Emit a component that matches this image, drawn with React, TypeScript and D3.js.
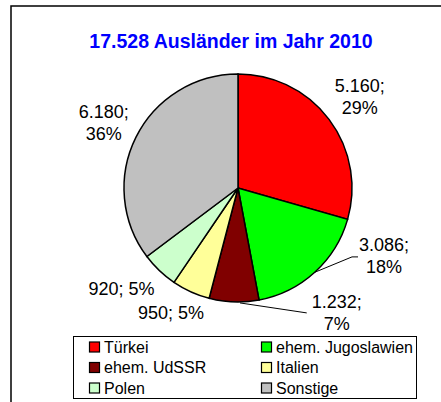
import React, { useRef, useEffect } from "react";
import * as d3 from "d3";

// data
const countries = ["Türkei", "ehem. Jugoslawien", "ehem. UdSSR", "Italien", "Polen", "Sonstige"];
const counts = [5160, 3086, 1232, 950, 920, 6180];
const percents = [29, 18, 7, 5, 5, 36];
const colors = ["#ff0000", "#00ff00", "#800000", "#ffff99", "#ccffcc", "#c0c0c0"];
const title = "17.528 Ausländer im Jahr 2010";

// label nudges (layout), leader flags
const nudges: [number, number][] = [[2, -1], [45, -43], [104, -25], [-5, -12], [-13, -8], [0, 2]];
const leaders = [false, true, true, false, false, false];

const W = 441;
const H = 402;
const cx = 238;
const cy = 188;
const R = 114;

const fmt = (v: number) => d3.format(",")(v).replace(/,/g, ".");

const App = () => {
  const svgRef = useRef<SVGSVGElement>(null);

  useEffect(() => {
    const svg = d3.select(svgRef.current);
    svg.selectAll("*").remove();
    const font = "Arial, 'Liberation Sans', sans-serif";

    // frame
    svg.append("rect")
      .attr("x", 11).attr("y", 6).attr("width", 440).attr("height", 420)
      .attr("fill", "#fff").attr("stroke", "#000").attr("stroke-width", 1.5);

    svg.append("text")
      .attr("x", 231).attr("y", 41).attr("dy", "0.35em")
      .attr("text-anchor", "middle")
      .attr("font-family", font).attr("font-weight", "bold")
      .attr("font-size", 19.5).attr("fill", "#0000ff")
      .text(title);

    const pie = d3.pie<number>().sort(null).value((d) => d);
    const arcs = pie(counts);
    const arc = d3.arc<d3.PieArcDatum<number>>().innerRadius(0).outerRadius(R);
    const labelArc = d3.arc<d3.PieArcDatum<number>>().innerRadius(150).outerRadius(150);
    const edgeArc = d3.arc<d3.PieArcDatum<number>>().innerRadius(R).outerRadius(R);

    const g = svg.append("g").attr("transform", `translate(${cx},${cy})`);
    g.selectAll("path.slice")
      .data(arcs)
      .join("path")
      .attr("class", "slice")
      .attr("d", arc)
      .attr("fill", (d, i) => colors[i])
      .attr("stroke", "#000")
      .attr("stroke-width", 1.5);

    arcs.forEach((d, i) => {
      const [lx0, ly0] = labelArc.centroid(d);
      const lx = lx0 + nudges[i][0];
      const ly = ly0 + nudges[i][1];
      const pct = percents[i] + "%";
      const twoLine = counts[i] >= 1000;
      if (leaders[i]) {
        const [ex, ey] = edgeArc.centroid(d);
        const tx = lx - (i === 1 ? 32 : 30);
        const ty = ly + (i === 1 ? 1 : 0);
        const pts: [number, number][] = i === 1
          ? [[ex, ey], [tx, ty], [tx + 6, ty]]
          : [[ex + 6, ey + 1], [tx, ty]];
        g.append("path")
          .attr("d", d3.line()(pts))
          .attr("fill", "none").attr("stroke", "#000").attr("stroke-width", 1);
      }
      const t = g.append("text")
        .attr("text-anchor", "middle")
        .attr("font-family", font).attr("font-size", 18).attr("fill", "#000");
      if (twoLine) {
        t.append("tspan").attr("x", lx).attr("y", ly - 11).attr("dy", "0.35em").text(fmt(counts[i]) + ";");
        t.append("tspan").attr("x", lx).attr("y", ly + 11).attr("dy", "0.35em").text(pct);
      } else {
        t.append("tspan").attr("x", lx).attr("y", ly).attr("dy", "0.35em").text(fmt(counts[i]) + "; " + pct);
      }
    });

    // legend
    const lg = svg.append("g");
    lg.append("rect")
      .attr("x", 73.5).attr("y", 336.5).attr("width", 343).attr("height", 62)
      .attr("fill", "#fff").attr("stroke", "#000").attr("stroke-width", 1);
    const colX = d3.scalePoint<number>().domain([0, 1]).range([89, 261]);
    const rowY = d3.scalePoint<number>().domain([0, 1, 2]).range([347, 388]);
    countries.forEach((c, i) => {
      const x = colX(i % 2)!;
      const y = rowY(Math.floor(i / 2))!;
      lg.append("rect")
        .attr("x", x + 0.5).attr("y", y - 5).attr("width", 10).attr("height", 10)
        .attr("fill", colors[i]).attr("stroke", "#000").attr("stroke-width", 1.2);
      lg.append("text")
        .attr("x", x + 15).attr("y", y).attr("dy", "0.36em")
        .attr("font-family", font).attr("font-size", 16).attr("fill", "#000")
        .text(c);
    });
  }, []);

  return <svg ref={svgRef} width={W} height={H} style={{ position: "absolute", left: 0, top: 0 }} />;
};

export default App;
